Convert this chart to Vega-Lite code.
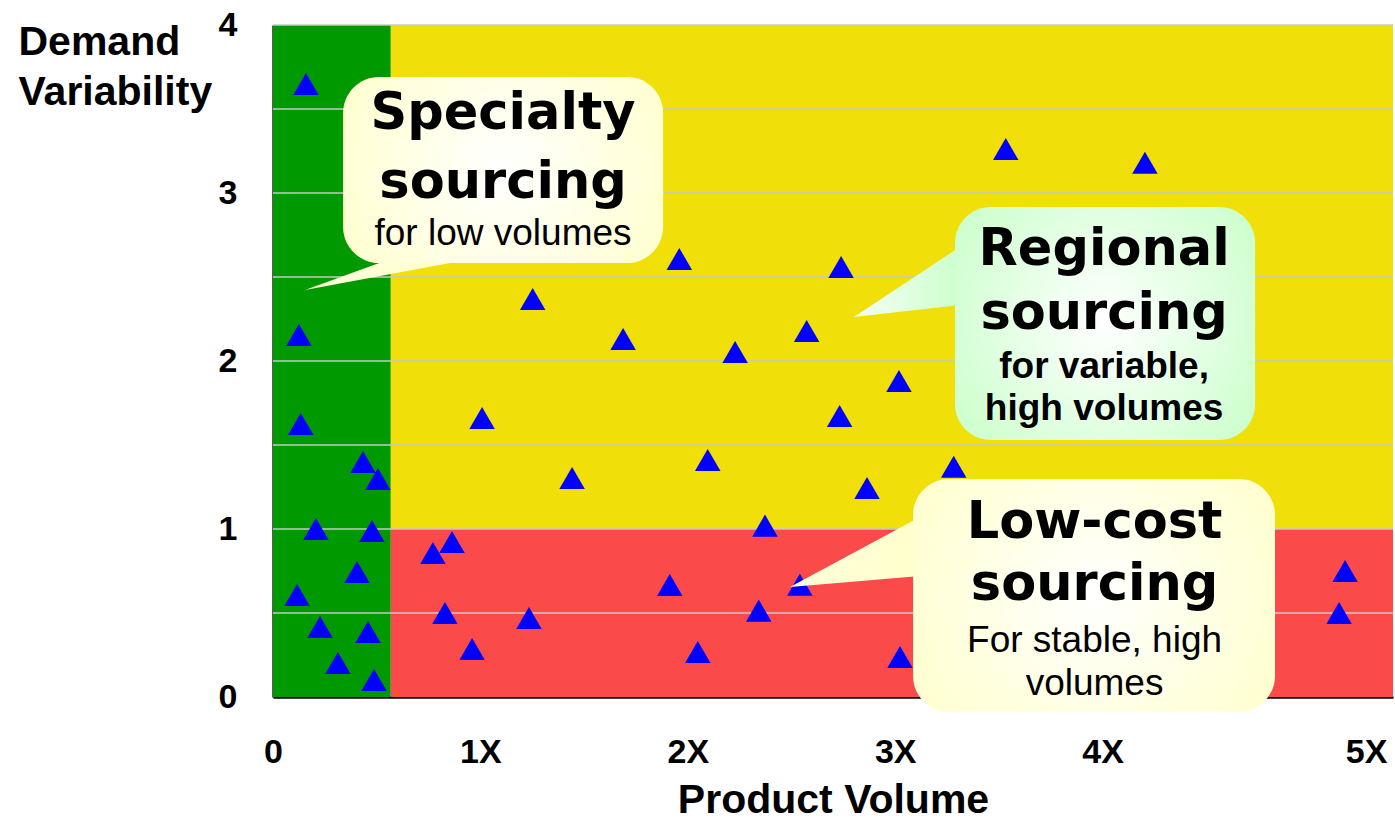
{
  "$schema": "https://vega.github.io/schema/vega-lite/v6.json",
  "width": 1120,
  "height": 672,
  "autosize": {"type": "none"},
  "padding": {"left": 273, "top": 25, "right": 2, "bottom": 126},
  "background": "white",
  "config": {"view": {"stroke": null}},
  "datasets": {
    "regions": [
      {"region": "Specialty zone", "x": 0, "x2": 0.568, "y": 0, "y2": 4},
      {"region": "Regional zone", "x": 0.568, "x2": 5.4, "y": 1, "y2": 4},
      {"region": "Low-cost zone", "x": 0.568, "x2": 5.4, "y": 0, "y2": 1}
    ],
    "grid": [{"y": 0.5}, {"y": 1}, {"y": 1.5}, {"y": 2}, {"y": 2.5}, {"y": 3}, {"y": 3.5}, {"y": 4}],
    "products": [
      {"x": 0.159, "y": 3.649}, {"x": 0.125, "y": 2.155}, {"x": 0.134, "y": 1.625},
      {"x": 0.434, "y": 1.399}, {"x": 0.506, "y": 1.298}, {"x": 0.207, "y": 1.0},
      {"x": 0.477, "y": 0.988}, {"x": 0.405, "y": 0.744}, {"x": 0.116, "y": 0.607},
      {"x": 0.227, "y": 0.417}, {"x": 0.458, "y": 0.387}, {"x": 0.313, "y": 0.202},
      {"x": 0.487, "y": 0.101},
      {"x": 0.771, "y": 0.857}, {"x": 0.863, "y": 0.923}, {"x": 0.829, "y": 0.5},
      {"x": 0.96, "y": 0.286}, {"x": 1.234, "y": 0.47}, {"x": 1.913, "y": 0.667},
      {"x": 2.048, "y": 0.268}, {"x": 2.342, "y": 0.514}, {"x": 2.54, "y": 0.668},
      {"x": 3.023, "y": 0.238}, {"x": 5.169, "y": 0.75}, {"x": 5.14, "y": 0.5},
      {"x": 1.008, "y": 1.661}, {"x": 1.959, "y": 2.607}, {"x": 2.739, "y": 2.56},
      {"x": 1.252, "y": 2.369}, {"x": 1.688, "y": 2.131}, {"x": 2.228, "y": 2.054},
      {"x": 2.573, "y": 2.179}, {"x": 2.732, "y": 1.673}, {"x": 2.096, "y": 1.411},
      {"x": 1.442, "y": 1.304}, {"x": 2.372, "y": 1.02}, {"x": 2.864, "y": 1.244},
      {"x": 3.018, "y": 1.881}, {"x": 3.282, "y": 1.371}, {"x": 3.533, "y": 3.262},
      {"x": 4.204, "y": 3.18}
    ],
    "tails": [
      {"callout": "Specialty", "order": 1, "x": 0.154, "y": 2.423},
      {"callout": "Specialty", "order": 2, "x": 0.579, "y": 2.613},
      {"callout": "Specialty", "order": 3, "x": 0.984, "y": 2.613},
      {"callout": "Regional", "order": 1, "x": 2.801, "y": 2.262},
      {"callout": "Regional", "order": 2, "x": 3.312, "y": 2.679},
      {"callout": "Regional", "order": 3, "x": 3.312, "y": 2.333},
      {"callout": "Low-cost", "order": 1, "x": 2.493, "y": 0.655},
      {"callout": "Low-cost", "order": 2, "x": 3.12, "y": 1.071},
      {"callout": "Low-cost", "order": 3, "x": 3.12, "y": 0.72}
    ],
    "boxes": [
      {"callout": "Specialty", "x": 0.338, "x2": 1.881, "y": 3.69, "y2": 2.583},
      {"callout": "Regional", "x": 3.288, "x2": 4.735, "y": 2.917, "y2": 1.53},
      {"callout": "Low-cost", "x": 3.086, "x2": 4.831, "y": 1.298, "y2": -0.089}
    ],
    "labels": [
      {"callout": "Specialty", "role": "title", "text": "Specialty", "x": 1.109, "y": 3.381},
      {"callout": "Specialty", "role": "title", "text": "sourcing", "x": 1.109, "y": 2.97},
      {"callout": "Specialty", "role": "sub", "text": "for low volumes", "x": 1.109, "y": 2.69},
      {"callout": "Regional", "role": "title", "text": "Regional", "x": 4.007, "y": 2.571},
      {"callout": "Regional", "role": "title", "text": "sourcing", "x": 4.007, "y": 2.19},
      {"callout": "Regional", "role": "subbold", "text": "for variable,", "x": 4.007, "y": 1.899},
      {"callout": "Regional", "role": "subbold", "text": "high volumes", "x": 4.007, "y": 1.649},
      {"callout": "Low-cost", "role": "title", "text": "Low-cost", "x": 3.961, "y": 0.946},
      {"callout": "Low-cost", "role": "title", "text": "sourcing", "x": 3.961, "y": 0.577},
      {"callout": "Low-cost", "role": "sub", "text": "For stable, high", "x": 3.961, "y": 0.268},
      {"callout": "Low-cost", "role": "sub", "text": "volumes", "x": 3.961, "y": 0.012}
    ]
  },
  "layer": [
    {
      "data": {"name": "regions"},
      "mark": {"type": "rect"},
      "encoding": {
        "x": {
          "field": "x", "type": "quantitative",
          "scale": {"domain": [0, 5.4], "nice": false, "zero": false},
          "axis": {
            "title": "Product Volume",
            "values": [0, 1, 2, 3, 4, 5.27],
            "labelExpr": "datum.value == 0 ? '0' : round(datum.value) + 'X'",
            "labelFont": "Liberation Sans", "labelFontWeight": "bold", "labelFontSize": 34, "labelColor": "black",
            "labelBaseline": "alphabetic", "labelPadding": 65, "labelFlush": false, "labelOverlap": false,
            "ticks": false, "tickSize": 0, "grid": false,
            "domainColor": "black", "domainWidth": 2.5,
            "titleFont": "Liberation Sans", "titleFontWeight": "bold", "titleFontSize": 41, "titleColor": "black",
            "titleBaseline": "alphabetic", "titleY": 115
          }
        },
        "x2": {"field": "x2"},
        "y": {
          "field": "y", "type": "quantitative",
          "scale": {"domain": [0, 4], "nice": false, "zero": false},
          "axis": {
            "title": ["Demand", "Variability"],
            "values": [0, 1, 2, 3, 4],
            "format": "d",
            "labelFont": "Liberation Sans", "labelFontWeight": "bold", "labelFontSize": 34, "labelColor": "black",
            "labelPadding": 36, "labelFlush": false, "labelOverlap": false,
            "ticks": false, "tickSize": 0, "grid": false,
            "domainColor": "#222222", "domainWidth": 2.5,
            "titleFont": "Liberation Sans", "titleFontWeight": "bold", "titleFontSize": 41, "titleColor": "black",
            "titleAngle": 0, "titleAlign": "left", "titleBaseline": "alphabetic",
            "titleX": -255, "titleY": 29, "titleLineHeight": 50
          }
        },
        "y2": {"field": "y2"},
        "color": {
          "field": "region", "type": "nominal",
          "scale": {"domain": ["Specialty zone", "Regional zone", "Low-cost zone"], "range": ["#009900", "#F0DF08", "#FA4A4A"]},
          "legend": null
        }
      }
    },
    {
      "data": {"name": "grid"},
      "mark": {"type": "rule", "color": "#C8C8C8", "strokeWidth": 1.5},
      "encoding": {
        "y": {"field": "y", "type": "quantitative", "scale": {"domain": [0, 4], "nice": false, "zero": false}}
      }
    },
    {
      "encoding": {
        "x": {"field": "x", "type": "quantitative", "scale": {"domain": [0, 5.4], "nice": false, "zero": false}},
        "y": {"field": "y", "type": "quantitative", "scale": {"domain": [0, 4], "nice": false, "zero": false}}
      },
      "layer": [
        {
          "data": {"name": "products"},
          "mark": {"type": "point", "shape": "triangle-up", "filled": true, "color": "#0000FF", "size": 650, "opacity": 1, "strokeWidth": 0}
        },
        {
          "data": {"name": "tails"},
          "transform": [{"filter": "datum.callout != 'Regional'"}],
          "mark": {
            "type": "line", "interpolate": "linear-closed", "strokeWidth": 0,
            "fill": {"gradient": "linear", "x1": 0, "y1": 0, "x2": 1, "y2": 0, "stops": [{"offset": 0, "color": "#FFFFDA"}, {"offset": 1, "color": "#FFFFCC"}]}
          },
          "encoding": {
            "detail": {"field": "callout", "type": "nominal"},
            "order": {"field": "order", "type": "quantitative"}
          }
        },
        {
          "data": {"name": "tails"},
          "transform": [{"filter": "datum.callout == 'Regional'"}],
          "mark": {
            "type": "line", "interpolate": "linear-closed", "strokeWidth": 0,
            "fill": {"gradient": "linear", "x1": 0, "y1": 0, "x2": 1, "y2": 0, "stops": [{"offset": 0, "color": "#F4FFF4"}, {"offset": 1, "color": "#CCFFCC"}]}
          },
          "encoding": {
            "detail": {"field": "callout", "type": "nominal"},
            "order": {"field": "order", "type": "quantitative"}
          }
        },
        {
          "data": {"name": "boxes"},
          "transform": [{"filter": "datum.callout != 'Regional'"}],
          "mark": {
            "type": "rect", "cornerRadius": 36,
            "fill": {"gradient": "radial", "x1": 0.5, "y1": 0.5, "r1": 0, "x2": 0.5, "y2": 0.5, "r2": 0.6, "stops": [{"offset": 0, "color": "#FFFFFF"}, {"offset": 1, "color": "#FFFFCC"}]}
          },
          "encoding": {
            "x2": {"field": "x2"},
            "y2": {"field": "y2"}
          }
        },
        {
          "data": {"name": "boxes"},
          "transform": [{"filter": "datum.callout == 'Regional'"}],
          "mark": {
            "type": "rect", "cornerRadius": 36,
            "fill": {"gradient": "radial", "x1": 0.5, "y1": 0.5, "r1": 0, "x2": 0.5, "y2": 0.5, "r2": 0.6, "stops": [{"offset": 0, "color": "#FFFFFF"}, {"offset": 1, "color": "#CCFFCC"}]}
          },
          "encoding": {
            "x2": {"field": "x2"},
            "y2": {"field": "y2"}
          }
        },
        {
          "data": {"name": "labels"},
          "transform": [{"filter": "datum.role == 'title'"}],
          "mark": {"type": "text", "font": "DejaVu Sans", "fontWeight": "bold", "fontSize": 51, "color": "black", "align": "center", "baseline": "alphabetic"},
          "encoding": {"text": {"field": "text"}}
        },
        {
          "data": {"name": "labels"},
          "transform": [{"filter": "datum.role == 'sub'"}],
          "mark": {"type": "text", "font": "Liberation Sans", "fontSize": 37, "color": "black", "align": "center", "baseline": "alphabetic"},
          "encoding": {"text": {"field": "text"}}
        },
        {
          "data": {"name": "labels"},
          "transform": [{"filter": "datum.role == 'subbold'"}],
          "mark": {"type": "text", "font": "Liberation Sans", "fontWeight": "bold", "fontSize": 37, "color": "black", "align": "center", "baseline": "alphabetic"},
          "encoding": {"text": {"field": "text"}}
        }
      ]
    }
  ]
}
